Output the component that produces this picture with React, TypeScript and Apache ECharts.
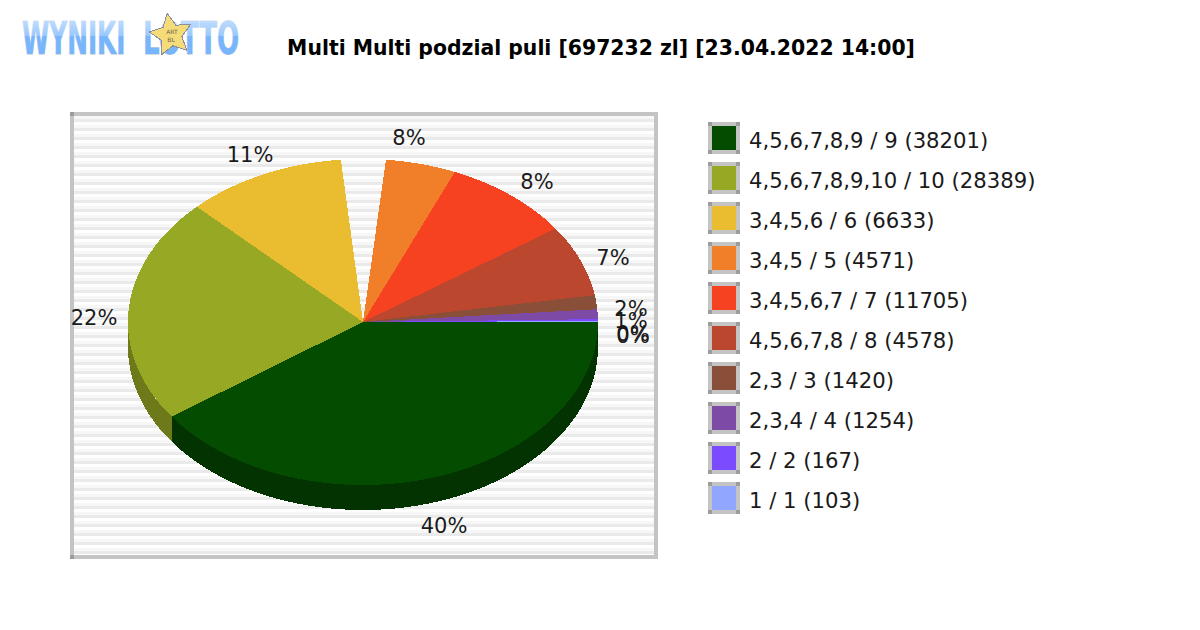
/**
 * Multi Multi prize pool split, drawn as a tilted pie with a side wall
 */
import { useEffect, useRef } from 'react'
import * as echarts from 'echarts'

const chartTitle = 'Multi Multi podzial puli [697232 zl] [23.04.2022 14:00]'

const legendLabels = [
  '4,5,6,7,8,9 / 9 (38201)',
  '4,5,6,7,8,9,10 / 10 (28389)',
  '3,4,5,6 / 6 (6633)',
  '3,4,5 / 5 (4571)',
  '3,4,5,6,7 / 7 (11705)',
  '4,5,6,7,8 / 8 (4578)',
  '2,3 / 3 (1420)',
  '2,3,4 / 4 (1254)',
  '2 / 2 (167)',
  '1 / 1 (103)',
]
const pctLabels = ['40%', '22%', '11%', '8%', '8%', '7%', '2%', '1%', '0%', '0%']

// sweep of every slice in degrees, clockwise from 3 o'clock
const sliceSweeps = [144.5, 80.5, 39.6, 17.4, 32, 25.5, 5, 3.5, 0.7, 0.3]
// the picture leaves an empty wedge after the third slice
const gapAfter = 2
const gapSweep = 11

const sliceColors = ['#034c00', '#97a825', '#e9bd2f', '#f17f29', '#f64221', '#bb482e', '#8a4f38', '#7d4ba6', '#7a4bff', '#91a7ff']
const sideColors = ['#023300', '#6e7a1a', '#a3841f', '#a9591c', '#ac2e17', '#833220', '#613727', '#583474', '#5534b3', '#6675b3']

// layout
const CX = 363
const CY = 322
const RX = 235
const RY = 163
const DEPTH = 25
const labelCenters = [[444, 526], [94, 318], [250, 155], [409, 138], [537, 182], [613, 258], [631, 309], [631, 321], [633, 334], [633, 336]]

const sliceRows: number[][] = []
let cursor = 0
sliceSweeps.forEach((sweep, i) => {
  sliceRows.push([cursor, cursor + sweep])
  cursor += sweep
  if (i === gapAfter) cursor += gapSweep
})

const ellipsePoint = (deg: number, dy = 0) => {
  const t = (deg * Math.PI) / 180
  return [CX + RX * Math.cos(t), CY + dy + RY * Math.sin(t)]
}

const arcPoints = (from: number, to: number, dy = 0) => {
  const pts: number[][] = []
  const steps = Math.max(1, Math.ceil(to - from))
  for (let i = 0; i <= steps; i++) pts.push(ellipsePoint(from + ((to - from) * i) / steps, dy))
  return pts
}

const renderSlice = (params: any, api: any) => {
  const start = api.value(0)
  const end = api.value(1)
  const children: any[] = []
  // only the lower half of the rim shows a wall
  if (start < 180) {
    const wallEnd = Math.min(end, 180)
    children.push({
      type: 'polygon',
      shape: { points: [...arcPoints(start, wallEnd), ...arcPoints(start, wallEnd, DEPTH).reverse()] },
      style: { fill: sideColors[params.dataIndex] },
    })
  }
  children.push({
    type: 'polygon',
    shape: { points: [[CX, CY], ...arcPoints(start, end)] },
    style: { fill: sliceColors[params.dataIndex] },
  })
  return { type: 'group', children }
}

const stripeRects = () => {
  const rects: any[] = []
  for (let y = 116; y < 555; y += 9) {
    rects.push({ type: 'rect', shape: { x: 74, y, width: 580, height: 3 }, style: { fill: '#f7f7f7' } })
    rects.push({ type: 'rect', shape: { x: 74, y: y + 3, width: 580, height: Math.min(3, 555 - y - 3) }, style: { fill: '#eaeaea' } })
  }
  return rects
}

const frameRects = () => {
  const grey = '#c4c4c4'
  const corner = '#9c9c9c'
  const parts: number[][] = [
    [70, 112, 588, 4],
    [70, 555, 588, 4],
    [70, 112, 4, 447],
    [654, 112, 4, 447],
  ]
  return [
    ...parts.map(([x, y, width, height]) => ({ type: 'rect', shape: { x, y, width, height }, style: { fill: grey } })),
    { type: 'rect', shape: { x: 70, y: 112, width: 4, height: 4 }, style: { fill: corner } },
    { type: 'rect', shape: { x: 70, y: 555, width: 4, height: 4 }, style: { fill: corner } },
  ]
}

const legendItems = () => {
  const items: any[] = []
  legendLabels.forEach((label, i) => {
    const y = 122 + i * 40
    items.push({ type: 'rect', shape: { x: 708, y, width: 32, height: 32 }, style: { fill: '#c4c4c4' } })
    ;[[708, y], [736, y], [708, y + 28], [736, y + 28]].forEach(([x, cy]) => {
      items.push({ type: 'rect', shape: { x, y: cy, width: 4, height: 4 }, style: { fill: '#9c9c9c' } })
    })
    items.push({ type: 'rect', shape: { x: 712, y: y + 4, width: 24, height: 24 }, style: { fill: sliceColors[i] } })
    items.push({
      type: 'text',
      x: 749,
      y: y + 18,
      style: { text: label, fill: '#1a1a1a', font: '21.2px "DejaVu Sans"', textAlign: 'left', textVerticalAlign: 'middle' },
    })
  })
  return items
}

const pctTexts = () =>
  pctLabels.map((text, i) => ({
    type: 'text',
    x: labelCenters[i][0],
    y: labelCenters[i][1],
    style: { text, fill: '#1a1a1a', font: '21px "DejaVu Sans"', textAlign: 'center', textVerticalAlign: 'middle' },
  }))

// the logo text is flat blue, the white veil over its upper half gives the glossy look
const logoVeil = {
  type: 'linear',
  x: 0,
  y: 0,
  x2: 0,
  y2: 1,
  colorStops: [
    { offset: 0, color: 'rgba(255,255,255,0.6)' },
    { offset: 1, color: 'rgba(255,255,255,0.25)' },
  ],
}

const logoText = (text: string, x: number, scaleX: number) => ({
  type: 'text',
  x,
  y: 16,
  scaleX,
  style: {
    text,
    fill: '#77b6fd',
    stroke: '#b9c3d0',
    lineWidth: 1,
    font: 'bold 45px "DejaVu Sans"',
    textAlign: 'left',
    textVerticalAlign: 'top',
  },
})

const starPoints = () => {
  const pts: number[][] = []
  for (let i = 0; i < 10; i++) {
    const r = i % 2 === 0 ? 22 : 11
    const a = ((i * 36 - 100) * Math.PI) / 180
    pts.push([171 + r * Math.cos(a), 35 + r * Math.sin(a)])
  }
  return pts
}

const starText = (text: string, x: number, y: number) => ({
  type: 'text',
  x,
  y,
  style: { text, fill: '#6a6650', font: '6px "DejaVu Sans"', textAlign: 'center', textVerticalAlign: 'middle' },
})

const logoParts = () => [
  logoText('WYNIKI', 22, 0.55),
  logoText('LOTTO', 143, 0.58),
  { type: 'rect', shape: { x: 18, y: 16, width: 228, height: 20 }, style: { fill: logoVeil } },
  { type: 'polygon', shape: { points: starPoints() }, style: { fill: '#f5dc78', stroke: '#8890a0', lineWidth: 1 } },
  starText('ART', 172, 31),
  starText('BL', 171, 39),
]

function App() {
  const chartRef = useRef<HTMLDivElement>(null)

  useEffect(() => {
    if (!chartRef.current) return
    const chart = echarts.init(chartRef.current, undefined, { renderer: 'svg' })
    chart.setOption({
      animation: false,
      backgroundColor: '#ffffff',
      title: {
        text: chartTitle,
        left: 596,
        top: 33,
        textAlign: 'center',
        textStyle: { color: '#000000', fontFamily: 'DejaVu Sans', fontWeight: 'bold', fontSize: 20.4 },
      },
      graphic: [
        { type: 'rect', z: -2, shape: { x: 74, y: 116, width: 580, height: 439 }, style: { fill: '#ffffff' } },
        ...stripeRects().map(r => ({ ...r, z: -1 })),
        ...frameRects().map(r => ({ ...r, z: -1 })),
        ...legendItems(),
        ...logoParts(),
        ...pctTexts().map(t => ({ ...t, z: 10 })),
      ],
      series: [
        {
          type: 'custom',
          coordinateSystem: 'none',
          renderItem: renderSlice,
          data: sliceRows,
          silent: true,
        },
      ],
    })
    return () => chart.dispose()
  }, [])

  return (
    <div style={{ position: 'fixed', left: 0, top: 0 }}>
      <style>{'#pie-chart path { shape-rendering: crispEdges; }'}</style>
      <div id="pie-chart" ref={chartRef} style={{ width: 1200, height: 630 }} />
    </div>
  )
}

export default App
